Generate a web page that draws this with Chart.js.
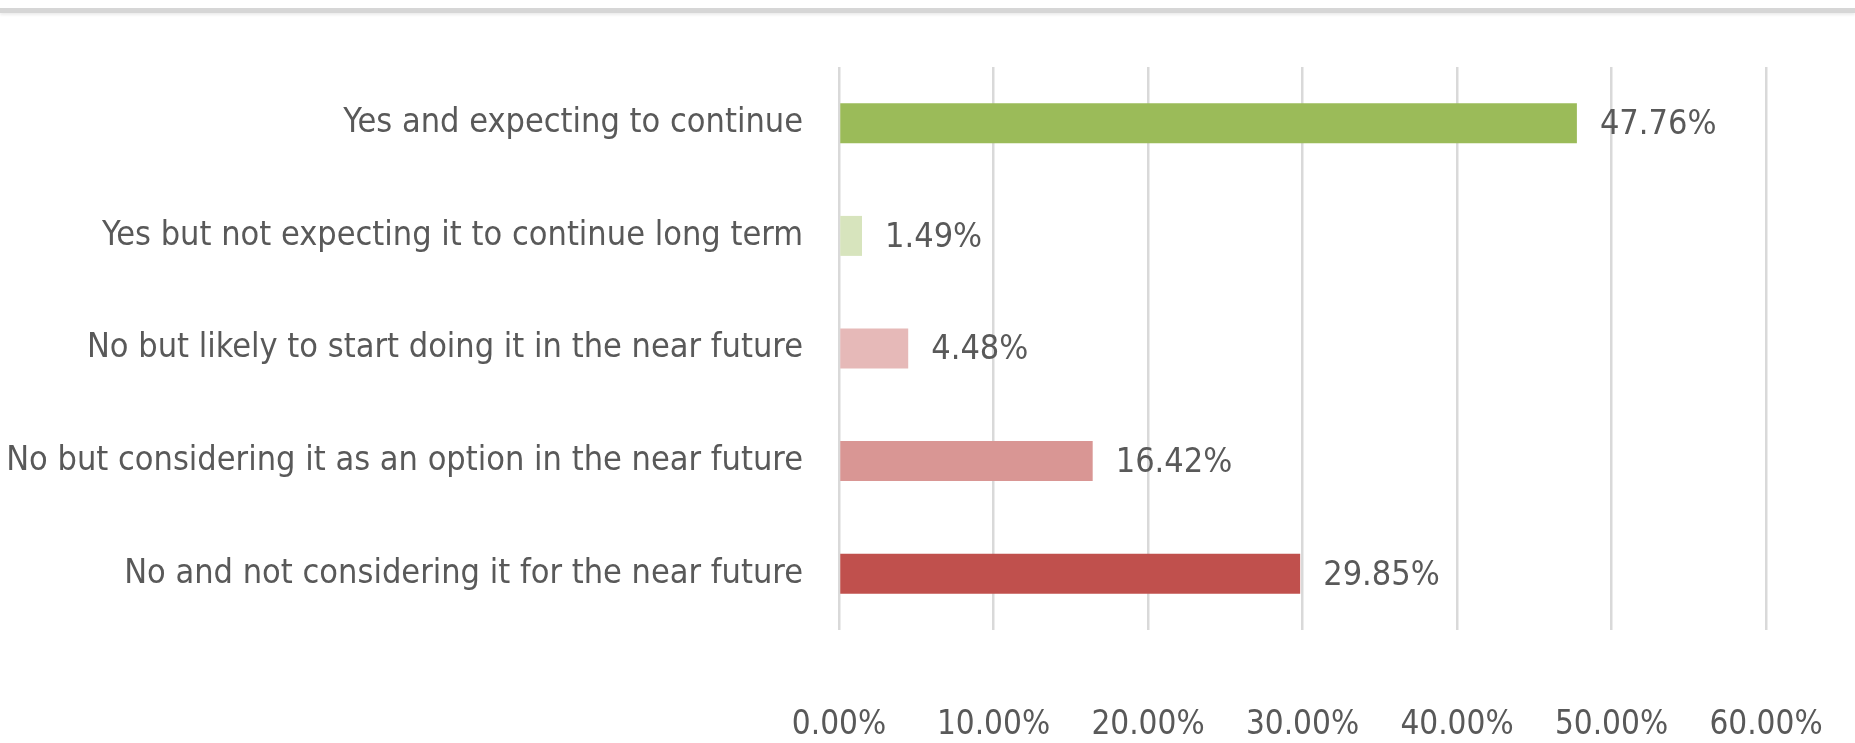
<!DOCTYPE html>
<html>
<head>
<meta charset="utf-8">
<script src="https://cdn.jsdelivr.net/npm/chart.js@4.4.1/dist/chart.umd.min.js"></script>
<style>
  html, body { margin: 0; padding: 0; background: #fff; }
  #wrap { position: relative; width: 1855px; height: 743px; }
  #topline { position: absolute; left: 0; top: 8px; width: 1855px; height: 5px; background: #d6d6d6; box-shadow: 0 2px 3px #ececec; }
  canvas { position: absolute; left: 0; top: 0; }
</style>
</head>
<body>
<div id="wrap">
  <canvas id="chart" width="1855" height="743"></canvas>
  <div id="topline"></div>
</div>
<script>
// chart values
const categories = [
  'Yes and expecting to continue',
  'Yes but not expecting it to continue long term',
  'No but likely to start doing it in the near future',
  'No but considering it as an option in the near future',
  'No and not considering it for the near future'
];
const values = [47.76, 1.49, 4.48, 16.42, 29.85];
const barColors = ['#9bbb59', '#d7e4bd', '#e6b9b8', '#d99694', '#c0504d'];
const tickValues = [0, 10, 20, 30, 40, 50, 60];

const FONT = "'DejaVu Sans Condensed', sans-serif";
const TEXT = '#595959';

document.addEventListener('DOMContentLoaded', function(){

    const valueLabels = {
        id: 'valueLabels',
        afterDatasetsDraw(chart) {
            const c = chart.ctx;
            const meta = chart.getDatasetMeta(0);
            c.save();
            c.font = '34px ' + FONT;
            c.fillStyle = TEXT;
            c.textAlign = 'left';
            c.textBaseline = 'middle';
            meta.data.forEach(function(bar, i){
                c.fillText(values[i].toFixed(2) + '%', bar.x + 23, bar.y + 2);
            });
            c.restore();
        }
    };

    const ctx = document.getElementById('chart').getContext('2d');
    new Chart(ctx, {
        type: 'bar',
        data: {
            labels: categories,
            datasets: [{
                data: values,
                backgroundColor: barColors,
                borderWidth: 0,
                categoryPercentage: 1,
                barPercentage: 0.355
            }]
        },
        options: {
            indexAxis: 'y',
            responsive: false,
            animation: false,
            layout: { padding: { top: 67, right: 89, left: 0, bottom: 0 } },
            plugins: { legend: { display: false }, tooltip: { enabled: false } },
            scales: {
                x: {
                    min: 0,
                    max: 60,
                    afterBuildTicks(scale) {
                        scale.ticks = tickValues.map(v => ({ value: v }));
                    },
                    afterFit(scale) { scale.height = 113; },
                    border: { display: false },
                    grid: { color: '#d9d9d9', lineWidth: 2.5, drawTicks: true, tickLength: 72, tickColor: 'rgba(0,0,0,0)' },
                    ticks: {
                        padding: 4,
                        color: TEXT,
                        font: { family: FONT, size: 33 },
                        callback: v => v.toFixed(2) + '%'
                    }
                },
                y: {
                    afterFit(scale) { scale.width = 839; },
                    border: { display: false },
                    grid: { display: false, drawTicks: false },
                    ticks: {
                        padding: 36,
                        color: TEXT,
                        font: { family: FONT, size: 34 }
                    }
                }
            }
        },
        plugins: [valueLabels]
    });

});
</script>
</body>
</html>
